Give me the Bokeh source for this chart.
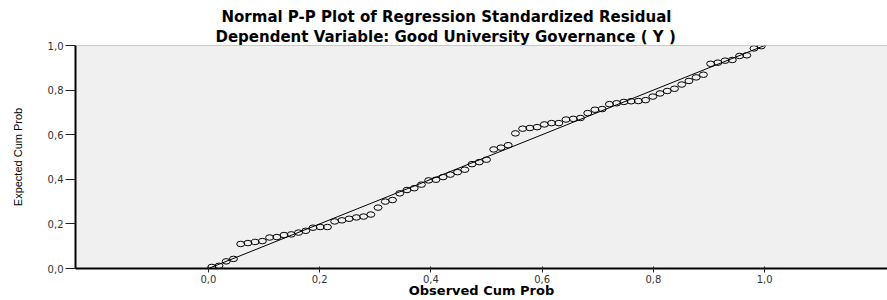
from bokeh.plotting import figure
from bokeh.models import FixedTicker, Title, Span, Range1d
from bokeh.embed import file_html
from bokeh.resources import INLINE

title_line1 = "Normal P-P Plot of Regression Standardized Residual"
title_line2 = "Dependent Variable: Good University Governance ( Y )"
x_label = "Observed Cum Prob"
y_label = "Expected Cum Prob"

x_ticks = [0.0, 0.2, 0.4, 0.6, 0.8, 1.0]
x_tick_labels = ["0,0", "0,2", "0,4", "0,6", "0,8", "1,0"]
y_ticks = [0.0, 0.2, 0.4, 0.6, 0.8, 1.0]
y_tick_labels = ["0,0", "0,2", "0,4", "0,6", "0,8", "1,0"]

observed = [0.006, 0.019, 0.032, 0.045, 0.058, 0.071, 0.084, 0.097, 0.110, 0.123,
            0.136, 0.149, 0.162, 0.175, 0.188, 0.201, 0.214, 0.227, 0.240, 0.253,
            0.266, 0.279, 0.292, 0.305, 0.318, 0.331, 0.344, 0.357, 0.370, 0.383,
            0.396, 0.409, 0.422, 0.435, 0.448, 0.461, 0.474, 0.487, 0.500, 0.513,
            0.526, 0.539, 0.552, 0.565, 0.578, 0.591, 0.604, 0.617, 0.630, 0.643,
            0.656, 0.669, 0.682, 0.695, 0.708, 0.721, 0.734, 0.747, 0.760, 0.773,
            0.786, 0.799, 0.812, 0.825, 0.838, 0.851, 0.864, 0.877, 0.890, 0.903,
            0.916, 0.929, 0.942, 0.955, 0.968, 0.981, 0.994]
expected = [0.007, 0.012, 0.032, 0.043, 0.110, 0.114, 0.119, 0.123, 0.139, 0.141,
            0.150, 0.153, 0.161, 0.169, 0.183, 0.186, 0.186, 0.211, 0.216, 0.223,
            0.229, 0.233, 0.242, 0.273, 0.300, 0.307, 0.337, 0.352, 0.360, 0.376,
            0.395, 0.398, 0.410, 0.421, 0.432, 0.443, 0.468, 0.477, 0.488, 0.534,
            0.542, 0.553, 0.606, 0.627, 0.630, 0.634, 0.646, 0.652, 0.652, 0.668,
            0.671, 0.675, 0.697, 0.712, 0.715, 0.737, 0.741, 0.747, 0.750, 0.751,
            0.755, 0.771, 0.785, 0.796, 0.806, 0.825, 0.841, 0.857, 0.869, 0.918,
            0.923, 0.932, 0.935, 0.953, 0.956, 0.987, 0.997]

ref_x = [0.0, 1.0]
ref_y = [0.0, 1.0]

p = figure(width=887, height=300,
           x_range=Range1d(-0.239, 1.221), y_range=Range1d(0.0, 1.0),
           output_backend="svg", toolbar_location=None,
           min_border_left=75, min_border_right=0, min_border_top=45, min_border_bottom=0,
           background_fill_color="#f0f0f0", border_fill_color="white",
           title=title_line1)

p.outline_line_color = None
p.grid.visible = False

# title lines
p.title.text_font = "DejaVu Sans"
p.title.text_font_size = "15px"
p.title.text_font_style = "bold"
p.title.text_color = "black"
p.title.align = "left"
p.title.offset = 146
p.title.standoff = 0
t2 = Title(text=title_line2, text_font="DejaVu Sans", text_font_size="15px",
           text_font_style="bold", text_color="black", align="left", offset=140,
           standoff=0)
p.add_layout(t2, "above")

# top border of plot area
p.add_layout(Span(location=1.0, dimension="width", line_color="#a0a0a0", line_width=1))

# data
p.line(ref_x, ref_y, line_color="black", line_width=1)
p.ellipse(x=observed, y=expected, width=8, height=5.5,
          width_units="screen", height_units="screen",
          fill_color=None, line_color="black", line_width=1)

# y axis
ya = p.yaxis[0]
ya.ticker = FixedTicker(ticks=y_ticks)
ya.major_label_overrides = dict(zip(y_ticks, y_tick_labels))
ya.axis_line_width = 2
ya.axis_line_color = "black"
ya.major_tick_out = 10
ya.major_tick_in = 0
ya.major_tick_line_color = "#222222"
ya.minor_tick_line_color = None
ya.major_label_text_font = "DejaVu Sans"
ya.major_label_text_font_size = "10px"
ya.major_label_text_color = "#333333"
ya.major_label_standoff = 2
ya.axis_label = y_label
ya.axis_label_text_font = "Liberation Sans"
ya.axis_label_text_font_size = "11px"
ya.axis_label_text_font_style = "normal"
ya.axis_label_text_color = "black"
ya.axis_label_standoff = 21

# x axis
xa = p.xaxis[0]
xa.ticker = FixedTicker(ticks=x_ticks)
xa.major_label_overrides = dict(zip(x_ticks, x_tick_labels))
xa.axis_line_width = 2
xa.axis_line_color = "black"
xa.major_tick_out = 4
xa.major_tick_in = 2
xa.major_tick_line_color = "#222222"
xa.minor_tick_line_color = None
xa.major_label_text_font = "DejaVu Sans"
xa.major_label_text_font_size = "10px"
xa.major_label_text_color = "#333333"
xa.major_label_standoff = 2
xa.axis_label = x_label
xa.axis_label_text_font = "DejaVu Sans"
xa.axis_label_text_font_size = "13px"
xa.axis_label_text_font_style = "bold"
xa.axis_label_text_color = "black"
xa.axis_label_standoff = -3

open("out.html", "w").write(file_html(p, INLINE))
